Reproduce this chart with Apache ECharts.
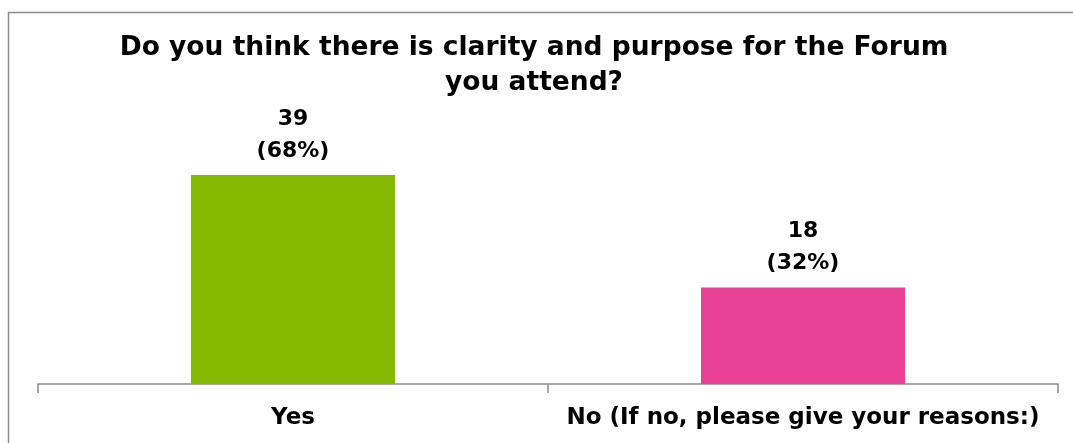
<!DOCTYPE html>
<html>
<head>
<meta charset="utf-8">
<script src="https://cdn.jsdelivr.net/npm/echarts@6/dist/echarts.min.js"></script>
<style>
  html, body { margin: 0; padding: 0; background: #fff; }
  #chart { width: 1073px; height: 443px; }
</style>
</head>
<body>
<div id="chart"></div>
<script>
// data
const categories = ['Yes', 'No (If no, please give your reasons:)'];
const counts = [39, 18];
const percents = ['68%', '32%'];
const barColors = ['#84bb00', '#e84196'];

const font = 'DejaVu Sans';

const chart = echarts.init(document.getElementById('chart'));

const option = {
  backgroundColor: '#fff',
  animation: false,
  title: {
    text: 'Do you think there is clarity and purpose for the Forum\nyou attend?',
    left: 529,
    textAlign: 'center',
    top: 26,
    textStyle: {
      fontFamily: font,
      fontSize: 26.5,
      fontWeight: 'bold',
      color: '#000',
      lineHeight: 35
    }
  },
  graphic: [
    {
      type: 'rect',
      shape: { x: 8.5, y: 12.5, width: 1080, height: 460 },
      style: { fill: null, stroke: '#8c8c8c', lineWidth: 1.5 },
      silent: true
    }
  ],
  grid: {
    left: 38,
    right: 15,
    top: 116,
    bottom: 59
  },
  xAxis: {
    type: 'category',
    data: categories,
    axisLine: { lineStyle: { color: '#8c8c8c', width: 1.5 } },
    axisTick: { show: true, length: 9, lineStyle: { color: '#8c8c8c', width: 1.5 } },
    axisLabel: {
      interval: 0,
      fontFamily: font,
      fontSize: 23,
      fontWeight: 'bold',
      color: '#000',
      margin: 23
    }
  },
  yAxis: {
    type: 'value',
    min: 0,
    max: 50,
    show: false,
    splitLine: { show: false }
  },
  series: [
    {
      type: 'bar',
      barWidth: '40%',
      data: counts.map((v, i) => ({
        value: v,
        itemStyle: { color: barColors[i] }
      })),
      label: {
        show: true,
        position: 'top',
        distance: 8,
        fontFamily: font,
        fontSize: 22,
        fontWeight: 'bold',
        color: '#000',
        lineHeight: 32,
        formatter: p => p.value + '\n(' + percents[p.dataIndex] + ')'
      }
    }
  ]
};

chart.setOption(option);
</script>
</body>
</html>
